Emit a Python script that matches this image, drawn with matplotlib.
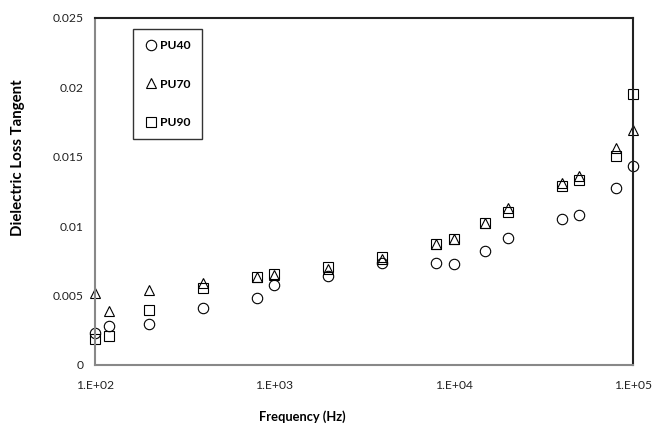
import numpy as np
import matplotlib
matplotlib.use("Agg")
import matplotlib.pyplot as plt
from matplotlib.ticker import FixedLocator, FixedFormatter

plt.rcParams["font.family"] = ["Lato", "DejaVu Sans"]

freq = [100, 120, 200, 400, 800, 1000, 2000, 4000, 8000, 10000,
        15000, 20000, 40000, 50000, 80000, 100000]
pu40 = [0.00228, 0.00278, 0.00295, 0.00414, 0.00486, 0.00575, 0.00642, 0.00738,
        0.00733, 0.00726, 0.00824, 0.00912, 0.01054, 0.01083, 0.01274, 0.01432]
pu70 = [0.00515, 0.00386, 0.0054, 0.00594, 0.00634, 0.00649, 0.00695, 0.00761,
        0.00874, 0.0091, 0.01025, 0.01128, 0.01312, 0.0136, 0.01564, 0.01695]
pu90 = [0.00185, 0.0021, 0.00397, 0.00556, 0.00634, 0.00654, 0.00706, 0.00781,
        0.00869, 0.0091, 0.01025, 0.0110, 0.01293, 0.01336, 0.01504, 0.01949]

x_ticks = [1e2, 1e3, 1e4, 1e5]
x_labels = ["1.E+02", "1.E+03", "1.E+04", "1.E+05"]
y_ticks = [0, 0.005, 0.01, 0.015, 0.02, 0.025]
y_labels = ["0", "0.005", "0.01", "0.015", "0.02", "0.025"]

fig = plt.figure(figsize=(6.54, 4.30), dpi=100)
ax = fig.add_axes([0.1453, 0.1512, 0.8227, 0.8070])

style = dict(linestyle="none", markerfacecolor="none", markeredgecolor="black",
             markeredgewidth=0.8, clip_on=False)
ax.plot(freq, pu40, marker="o", markersize=7.5, label="PU40", **style)
ax.plot(freq, pu70, marker="^", markersize=7.5, label="PU70", **style)
ax.plot(freq, pu90, marker="s", markersize=7, label="PU90", **style)

ax.set_xscale("log")
ax.set_xlim(1e2, 1e5)
ax.set_ylim(0, 0.025)
ax.xaxis.set_major_locator(FixedLocator(x_ticks))
ax.xaxis.set_major_formatter(FixedFormatter(x_labels))
ax.xaxis.set_minor_locator(FixedLocator([]))
ax.yaxis.set_major_locator(FixedLocator(y_ticks))
ax.yaxis.set_major_formatter(FixedFormatter(y_labels))
ax.tick_params(length=0, labelsize=8.7, colors="#222222")
ax.tick_params(axis="x", pad=11)
ax.tick_params(axis="y", pad=8)

for side in ["left", "bottom"]:
    ax.spines[side].set_color("#888888")
    ax.spines[side].set_linewidth(1.5)
for side in ["top", "right"]:
    ax.spines[side].set_color("#222222")
    ax.spines[side].set_linewidth(1.5)

ax.set_xlabel("Frequency (Hz)", fontsize=9.3, fontweight="bold")
ax.xaxis.set_label_coords(0.385, -0.13)
ax.set_ylabel("Dielectric Loss Tangent", fontsize=10.8, fontweight="bold")
ax.yaxis.set_label_coords(-0.131, 0.597)

leg = ax.legend(loc="upper left", bbox_to_anchor=(0.0706, 0.9685), frameon=True,
                fancybox=False, labelspacing=2.25, handletextpad=0.15,
                handlelength=1.1, borderpad=0.95, borderaxespad=0,
                prop={"weight": "bold", "size": 8.7})
leg.get_frame().set_edgecolor("black")
leg.get_frame().set_linewidth(1.0)

fig.savefig("out.png", dpi=100)
